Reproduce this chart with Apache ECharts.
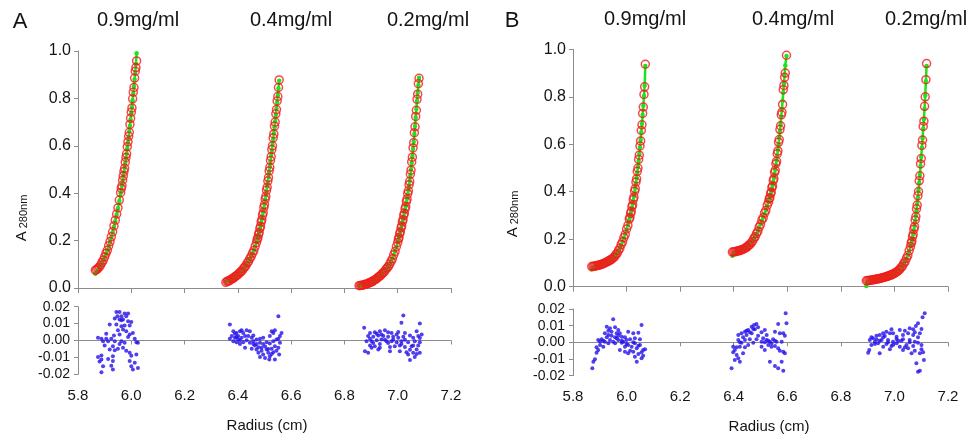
<!DOCTYPE html>
<html><head><meta charset="utf-8">
<script src="https://cdn.jsdelivr.net/npm/echarts/dist/echarts.min.js"></script>
<style>html,body{margin:0;padding:0;background:#fff}#c{width:971px;height:434px}</style>
</head><body><div id="c"></div>
<script>
// ---------- Panel A ----------
const xA1 = [5.865,5.870,5.875,5.880,5.885,5.890,5.895,5.900,5.905,5.910,5.915,5.920,5.925,5.930,5.935,5.940,5.945,5.950,5.955,5.960,5.9625,5.965,5.9675,5.970,5.9725,5.975,5.9775,5.980,5.9825,5.985,5.9875,5.990,5.9925,5.995,5.9975,6.000,6.0025,6.005,6.0075,6.010,6.0125,6.015,6.0175,6.020];
const dataA1 = [0.075,0.077,0.083,0.089,0.097,0.108,0.118,0.131,0.146,0.159,0.178,0.196,0.216,0.237,0.262,0.286,0.312,0.338,0.371,0.402,0.420,0.431,0.455,0.473,0.492,0.505,0.531,0.551,0.566,0.596,0.617,0.640,0.657,0.690,0.716,0.742,0.760,0.798,0.826,0.846,0.886,0.915,0.930,0.958];
const fitA1 = [0.060,0.068,0.077,0.086,0.096,0.106,0.117,0.129,0.142,0.157,0.174,0.193,0.213,0.235,0.258,0.283,0.309,0.337,0.367,0.399,0.416,0.433,0.451,0.469,0.488,0.507,0.527,0.547,0.568,0.590,0.613,0.636,0.660,0.685,0.711,0.737,0.764,0.792,0.821,0.850,0.880,0.911,0.945,0.990];

const xA2 = [6.355,6.360,6.365,6.370,6.375,6.380,6.385,6.390,6.395,6.400,6.405,6.410,6.415,6.420,6.425,6.430,6.435,6.440,6.445,6.450,6.455,6.460,6.465,6.470,6.4725,6.475,6.4775,6.480,6.4825,6.485,6.4875,6.490,6.4925,6.495,6.4975,6.500,6.5025,6.505,6.5075,6.510,6.5125,6.515,6.5175,6.520,6.5225,6.525,6.5275,6.530,6.5325,6.535,6.5375,6.540,6.5425,6.545,6.5475,6.550,6.5525,6.555];
const dataA2 = [0.024,0.028,0.030,0.032,0.037,0.040,0.043,0.049,0.052,0.056,0.063,0.067,0.072,0.081,0.087,0.094,0.105,0.112,0.124,0.133,0.147,0.158,0.176,0.192,0.205,0.211,0.226,0.234,0.251,0.260,0.279,0.288,0.307,0.318,0.340,0.352,0.375,0.387,0.412,0.425,0.451,0.466,0.494,0.509,0.538,0.554,0.584,0.600,0.633,0.650,0.683,0.700,0.735,0.753,0.789,0.808,0.846,0.878];
const fitA2 = [0.025,0.027,0.030,0.033,0.036,0.040,0.044,0.048,0.052,0.057,0.062,0.067,0.073,0.080,0.087,0.095,0.104,0.113,0.123,0.134,0.146,0.159,0.175,0.193,0.203,0.213,0.224,0.236,0.249,0.262,0.276,0.290,0.305,0.321,0.337,0.354,0.372,0.390,0.409,0.428,0.448,0.469,0.490,0.512,0.534,0.557,0.580,0.604,0.628,0.653,0.678,0.704,0.730,0.757,0.784,0.812,0.842,0.875];

const xA3 = [6.855,6.860,6.865,6.870,6.875,6.880,6.885,6.890,6.895,6.900,6.905,6.910,6.915,6.920,6.925,6.930,6.935,6.940,6.945,6.950,6.955,6.960,6.965,6.970,6.975,6.980,6.985,6.990,6.995,7.000,7.0025,7.005,7.0075,7.010,7.0125,7.015,7.0175,7.020,7.0225,7.025,7.0275,7.030,7.0325,7.035,7.0375,7.040,7.0425,7.045,7.0475,7.050,7.0525,7.055,7.0575,7.060,7.0625,7.065,7.0675,7.070,7.0725,7.075,7.0775,7.080];
const dataA3 = [0.010,0.011,0.012,0.012,0.015,0.016,0.017,0.020,0.023,0.025,0.027,0.032,0.035,0.038,0.044,0.048,0.052,0.059,0.064,0.069,0.078,0.084,0.091,0.101,0.112,0.123,0.140,0.154,0.175,0.192,0.206,0.213,0.230,0.237,0.254,0.262,0.280,0.288,0.306,0.315,0.334,0.343,0.364,0.375,0.398,0.410,0.436,0.450,0.480,0.497,0.532,0.552,0.591,0.613,0.655,0.680,0.724,0.750,0.796,0.818,0.862,0.885];
const fitA3 = [0.010,0.011,0.012,0.013,0.014,0.016,0.018,0.020,0.022,0.025,0.028,0.031,0.035,0.039,0.043,0.048,0.053,0.058,0.064,0.070,0.077,0.084,0.092,0.100,0.111,0.124,0.139,0.155,0.173,0.193,0.204,0.215,0.227,0.239,0.251,0.264,0.277,0.290,0.303,0.317,0.331,0.345,0.361,0.377,0.394,0.412,0.432,0.453,0.475,0.500,0.527,0.556,0.586,0.617,0.650,0.684,0.719,0.755,0.790,0.823,0.856,0.887];

// ---------- Panel B ----------
const xB1 = [5.870,5.875,5.880,5.885,5.890,5.895,5.900,5.905,5.910,5.915,5.920,5.925,5.930,5.935,5.940,5.945,5.950,5.955,5.960,5.965,5.970,5.975,5.980,5.985,5.990,5.995,6.000,6.005,6.010,6.0125,6.015,6.0175,6.020,6.0225,6.025,6.0275,6.030,6.0325,6.035,6.0375,6.040,6.0425,6.045,6.0475,6.050,6.0525,6.055,6.0575,6.060,6.0625,6.065,6.0675,6.070];
const dataB1 = [0.085,0.086,0.086,0.088,0.089,0.090,0.092,0.093,0.096,0.098,0.101,0.103,0.107,0.109,0.113,0.116,0.122,0.126,0.135,0.141,0.153,0.162,0.178,0.189,0.207,0.220,0.243,0.258,0.285,0.292,0.309,0.317,0.337,0.345,0.367,0.377,0.402,0.413,0.441,0.454,0.486,0.500,0.536,0.554,0.593,0.614,0.658,0.682,0.730,0.757,0.810,0.842,0.937];
const fitB1 = [0.072,0.080,0.084,0.086,0.088,0.089,0.091,0.093,0.095,0.098,0.100,0.103,0.106,0.109,0.112,0.116,0.121,0.127,0.134,0.142,0.152,0.163,0.176,0.190,0.205,0.222,0.240,0.260,0.282,0.294,0.306,0.319,0.333,0.348,0.363,0.380,0.397,0.416,0.436,0.457,0.480,0.504,0.530,0.558,0.587,0.618,0.651,0.686,0.723,0.762,0.803,0.846,0.930];

const xB2 = [6.395,6.400,6.405,6.410,6.415,6.420,6.425,6.430,6.435,6.440,6.445,6.450,6.455,6.460,6.465,6.470,6.475,6.480,6.485,6.490,6.495,6.500,6.505,6.510,6.515,6.520,6.525,6.530,6.5325,6.535,6.5375,6.540,6.5425,6.545,6.5475,6.550,6.5525,6.555,6.5575,6.560,6.5625,6.565,6.5675,6.570,6.5725,6.575,6.5775,6.580,6.5825,6.585,6.5875,6.590,6.5925,6.597];
const dataB2 = [0.146,0.147,0.147,0.149,0.150,0.152,0.153,0.156,0.158,0.160,0.165,0.167,0.174,0.177,0.185,0.191,0.203,0.210,0.224,0.233,0.251,0.262,0.281,0.290,0.310,0.321,0.343,0.356,0.370,0.375,0.392,0.398,0.418,0.424,0.447,0.455,0.481,0.490,0.518,0.528,0.560,0.572,0.608,0.620,0.662,0.678,0.724,0.735,0.768,0.830,0.848,0.882,0.900,0.975];
const fitB2 = [0.130,0.140,0.146,0.148,0.150,0.152,0.154,0.156,0.158,0.161,0.164,0.168,0.173,0.178,0.184,0.192,0.201,0.211,0.222,0.235,0.249,0.264,0.278,0.292,0.307,0.323,0.340,0.358,0.367,0.377,0.388,0.400,0.413,0.427,0.442,0.458,0.475,0.493,0.512,0.532,0.553,0.576,0.600,0.626,0.654,0.684,0.716,0.748,0.782,0.818,0.855,0.893,0.932,0.972];

const xB3 = [6.895,6.900,6.905,6.910,6.915,6.920,6.925,6.930,6.935,6.940,6.945,6.950,6.955,6.960,6.965,6.970,6.975,6.980,6.985,6.990,6.995,7.000,7.005,7.010,7.015,7.020,7.025,7.030,7.035,7.040,7.045,7.050,7.055,7.060,7.0625,7.065,7.0675,7.070,7.0725,7.075,7.0775,7.080,7.0825,7.085,7.0875,7.090,7.0925,7.095,7.0975,7.100,7.1025,7.105,7.1075,7.110,7.1125,7.115,7.1175,7.120];
const dataB3 = [0.025,0.026,0.026,0.027,0.028,0.029,0.030,0.031,0.032,0.033,0.035,0.036,0.038,0.039,0.041,0.042,0.045,0.046,0.049,0.050,0.054,0.056,0.060,0.063,0.069,0.073,0.081,0.087,0.098,0.106,0.120,0.131,0.152,0.169,0.184,0.191,0.211,0.220,0.242,0.253,0.281,0.295,0.328,0.344,0.383,0.401,0.446,0.467,0.517,0.540,0.595,0.618,0.675,0.697,0.760,0.800,0.872,0.940];
const fitB3 = [0.003,0.020,0.026,0.027,0.028,0.029,0.030,0.031,0.032,0.033,0.034,0.036,0.037,0.039,0.040,0.042,0.044,0.046,0.048,0.050,0.053,0.056,0.059,0.063,0.068,0.073,0.080,0.088,0.097,0.107,0.118,0.132,0.150,0.170,0.181,0.193,0.207,0.222,0.238,0.256,0.276,0.298,0.322,0.348,0.376,0.406,0.438,0.472,0.508,0.546,0.585,0.625,0.665,0.705,0.750,0.805,0.865,0.930];

// ---------- Residuals [radius, residual] ----------
const resA1 = [[5.944,0.0168],[5.956,0.0168],[5.975,0.0160],[5.988,0.0160],[5.948,0.0144],[5.963,0.0144],[5.981,0.0144],[5.956,0.0124],[5.969,0.0124],[5.988,0.0114],[6.000,0.0109],[5.919,0.0095],[5.944,0.0095],[5.963,0.0085],[5.975,0.0089],[5.994,0.0089],[5.950,0.0061],[5.969,0.0065],[5.981,0.0055],[6.006,0.0045],[5.935,0.0030],[5.956,0.0036],[5.994,0.0036],[5.875,0.0016],[5.888,0.0010],[5.906,0.0010],[5.925,0.0010],[5.894,-0.0004],[5.913,-0.0004],[5.938,-0.0004],[5.963,-0.0004],[5.975,-0.0014],[6.019,-0.0010],[6.025,-0.0014],[5.900,-0.0030],[5.931,-0.0034],[5.950,-0.0049],[5.969,-0.0043],[5.919,-0.0053],[5.938,-0.0057],[5.994,-0.0073],[6.019,-0.0083],[5.888,-0.0089],[5.875,-0.0097],[5.888,-0.0112],[5.881,-0.0124],[5.931,-0.0093],[5.931,-0.0122],[5.994,-0.0122],[6.013,-0.0132],[6.000,-0.0152],[6.025,-0.0162],[5.894,-0.0152],[5.931,-0.0172],[5.888,-0.0188],[6.006,-0.0172],[5.906,0.0040],[5.913,-0.0110],[5.938,0.0130],[5.963,0.0120],[5.988,0.0020],[6.000,-0.0090],[6.013,0.0010],[5.925,-0.0150],[5.956,-0.0020],[5.981,-0.0060]];
const resA2 = [[6.370,0.0095],[6.552,0.0144],[6.383,0.0055],[6.395,0.0045],[6.408,0.0055],[6.420,0.0045],[6.433,0.0061],[6.445,0.0055],[6.377,0.0026],[6.389,0.0016],[6.401,0.0026],[6.414,0.0016],[6.427,0.0026],[6.383,-0.0004],[6.395,-0.0010],[6.408,0.0002],[6.439,0.0026],[6.452,0.0016],[6.458,-0.0004],[6.470,0.0006],[6.483,0.0010],[6.495,0.0016],[6.520,0.0026],[6.533,0.0045],[6.539,0.0061],[6.527,0.0055],[6.558,0.0026],[6.445,-0.0014],[6.458,-0.0020],[6.470,-0.0020],[6.483,-0.0014],[6.495,-0.0020],[6.508,-0.0010],[6.520,-0.0018],[6.533,-0.0004],[6.545,0.0006],[6.427,-0.0043],[6.452,-0.0049],[6.470,-0.0053],[6.489,-0.0043],[6.508,-0.0053],[6.527,-0.0049],[6.539,-0.0034],[6.552,-0.0043],[6.477,-0.0073],[6.495,-0.0083],[6.514,-0.0073],[6.533,-0.0069],[6.483,-0.0097],[6.502,-0.0103],[6.520,-0.0093],[6.518,-0.0112],[6.539,-0.0112],[6.555,-0.0083],[6.558,-0.0014],[6.408,-0.0020],[6.370,0.0010],[6.564,0.0045],[6.389,0.0040],[6.401,0.0008],[6.420,-0.0010],[6.433,0.0002],[6.464,-0.0030],[6.477,-0.0040],[6.489,-0.0060],[6.502,-0.0035],[6.514,-0.0050],[6.527,-0.0080],[6.545,-0.0060],[6.552,0.0010],[6.458,0.0030],[6.414,0.0060],[6.395,0.0020]];
const resA3 = [[7.021,0.0148],[6.874,0.0075],[7.014,0.0105],[7.083,0.0101],[6.896,0.0045],[6.914,0.0049],[6.933,0.0055],[6.952,0.0061],[6.964,0.0049],[6.977,0.0045],[6.996,0.0036],[7.027,0.0045],[7.071,0.0055],[7.046,0.0030],[6.889,0.0026],[6.908,0.0022],[6.927,0.0030],[6.946,0.0026],[6.964,0.0022],[6.983,0.0022],[7.002,0.0016],[7.021,0.0022],[7.058,0.0016],[7.077,0.0026],[7.090,0.0036],[6.883,-0.0004],[6.902,-0.0004],[6.921,0.0002],[6.939,0.0006],[6.958,-0.0004],[6.977,-0.0004],[6.996,-0.0010],[7.014,-0.0004],[7.039,-0.0010],[7.064,-0.0004],[7.083,-0.0010],[6.896,-0.0030],[6.914,-0.0034],[6.933,-0.0043],[6.971,-0.0038],[6.989,-0.0034],[7.008,-0.0030],[7.027,-0.0038],[7.052,-0.0034],[7.077,-0.0030],[6.877,-0.0063],[6.889,-0.0073],[6.927,-0.0053],[6.971,-0.0063],[7.008,-0.0063],[7.033,-0.0069],[7.058,-0.0073],[7.071,-0.0053],[7.039,-0.0083],[7.064,-0.0097],[7.046,-0.0116],[7.083,-0.0073],[6.902,-0.0043],[6.896,0.0010],[6.908,-0.0015],[6.921,0.0040],[6.939,0.0035],[6.952,0.0005],[6.964,-0.0015],[6.983,0.0005],[7.002,0.0050],[7.014,-0.0020],[7.027,0.0005],[7.046,-0.0055],[7.058,-0.0030],[7.071,-0.0080],[7.083,0.0015],[6.933,-0.0020]];
const resB1 = [[5.950,0.0138],[6.056,0.0104],[5.926,0.0094],[5.938,0.0084],[5.957,0.0090],[5.969,0.0074],[5.944,0.0064],[5.919,0.0054],[5.932,0.0044],[5.963,0.0054],[5.975,0.0054],[6.006,0.0064],[6.025,0.0054],[6.044,0.0058],[5.982,0.0034],[5.994,0.0030],[5.894,0.0014],[5.907,0.0018],[5.919,0.0004],[5.938,0.0014],[5.950,0.0004],[5.969,0.0014],[5.988,0.0004],[6.000,0.0014],[6.013,0.0018],[6.031,0.0024],[6.050,0.0018],[5.901,-0.0016],[5.913,-0.0026],[5.932,-0.0006],[5.957,-0.0006],[5.975,-0.0046],[5.994,-0.0026],[6.006,-0.0016],[6.019,-0.0026],[6.031,-0.0006],[6.038,-0.0036],[6.050,-0.0016],[5.894,-0.0046],[5.888,-0.0062],[5.994,-0.0056],[6.006,-0.0066],[6.025,-0.0056],[6.044,-0.0070],[6.062,-0.0046],[6.069,-0.0042],[5.882,-0.0102],[5.876,-0.0116],[6.031,-0.0086],[6.038,-0.0116],[6.056,-0.0096],[5.872,-0.0156],[5.982,-0.0002],[5.963,0.0024],[5.901,0.0005],[5.913,0.0010],[5.926,0.0030],[5.944,0.0040],[5.957,0.0030],[5.969,0.0040],[5.982,0.0010],[6.000,-0.0010],[6.013,-0.0050],[6.025,0.0000],[6.044,-0.0020],[6.056,-0.0060],[5.888,-0.0030],[5.932,0.0070],[6.062,-0.0080]];
const resB2 = [[6.594,0.0174],[6.597,0.0114],[6.566,0.0110],[6.485,0.0110],[6.476,0.0104],[6.467,0.0094],[6.491,0.0090],[6.479,0.0078],[6.454,0.0074],[6.442,0.0064],[6.429,0.0054],[6.417,0.0044],[6.448,0.0044],[6.467,0.0054],[6.516,0.0074],[6.523,0.0044],[6.554,0.0064],[6.572,0.0054],[6.585,0.0054],[6.510,0.0024],[6.523,0.0014],[6.535,0.0004],[6.547,0.0018],[6.560,0.0004],[6.579,0.0004],[6.504,0.0004],[6.460,0.0018],[6.442,0.0014],[6.417,0.0014],[6.429,-0.0002],[6.398,-0.0026],[6.404,-0.0046],[6.423,-0.0026],[6.442,-0.0030],[6.454,-0.0016],[6.473,-0.0002],[6.485,0.0018],[6.529,-0.0016],[6.541,-0.0026],[6.554,-0.0022],[6.566,-0.0036],[6.585,-0.0056],[6.591,-0.0066],[6.411,-0.0076],[6.417,-0.0096],[6.423,-0.0116],[6.404,-0.0106],[6.392,-0.0156],[6.435,-0.0066],[6.535,-0.0116],[6.554,-0.0142],[6.566,-0.0156],[6.579,-0.0116],[6.585,-0.0170],[6.516,-0.0046],[6.504,-0.0026],[6.398,-0.0060],[6.411,-0.0030],[6.423,0.0000],[6.435,0.0030],[6.448,0.0070],[6.460,0.0060],[6.473,0.0080],[6.491,0.0040],[6.504,0.0060],[6.516,0.0000],[6.529,0.0010],[6.541,-0.0005],[6.554,0.0010],[6.572,-0.0050],[6.591,0.0040]];
const resB3 = [[7.113,0.0174],[7.105,0.0150],[7.088,0.0114],[7.080,0.0098],[7.070,0.0078],[7.057,0.0084],[7.039,0.0070],[7.020,0.0074],[6.989,0.0078],[6.970,0.0064],[6.958,0.0054],[6.945,0.0044],[6.964,0.0038],[6.983,0.0054],[6.995,0.0054],[7.008,0.0034],[7.032,0.0044],[7.051,0.0054],[7.070,0.0044],[7.095,0.0054],[6.920,0.0024],[6.933,0.0018],[6.908,0.0014],[6.927,0.0004],[6.952,0.0014],[6.976,0.0014],[6.995,0.0004],[7.014,0.0010],[7.032,0.0018],[7.057,0.0014],[7.076,0.0004],[7.088,-0.0002],[6.914,-0.0016],[6.939,-0.0006],[6.970,-0.0010],[6.989,-0.0022],[7.008,-0.0006],[7.020,-0.0026],[7.045,-0.0016],[7.070,-0.0022],[7.101,-0.0016],[6.906,-0.0046],[6.902,-0.0062],[6.945,-0.0066],[6.983,-0.0042],[7.032,-0.0046],[7.051,-0.0036],[7.076,-0.0050],[7.095,-0.0066],[7.101,-0.0042],[7.082,-0.0126],[7.088,-0.0176],[7.095,-0.0170],[7.110,-0.0106],[7.064,-0.0066],[6.958,-0.0026],[6.914,0.0030],[6.927,-0.0010],[6.945,0.0010],[6.958,0.0030],[6.976,0.0000],[6.995,-0.0015],[7.008,0.0020],[7.026,0.0010],[7.039,-0.0030],[7.057,0.0000],[7.076,0.0060],[7.088,0.0030],[7.101,0.0080],[7.107,-0.0060],[6.933,0.0040]];

const ticksX = {min: 5.8, max: 7.2, step: 0.2};
const titles = ['A', 'B'];
const concLabels = ['0.9mg/ml', '0.4mg/ml', '0.2mg/ml'];

const pairs = (xs, ys) => xs.map((x, i) => [x, ys[i]]);

const FONT = '"Liberation Sans", Arial, sans-serif';
const AX = '#8c8c8c';
const TXT = '#141414';
const RED = '#f21a1a';
const GREEN = '#1ee41e';
const BLUE = '#2410e8';

const grids = [
  {left: 78, top: 51, width: 373, height: 237},
  {left: 78, top: 306.7, width: 373, height: 67.6},
  {left: 573, top: 49.3, width: 375, height: 237.4},
  {left: 573, top: 309, width: 375, height: 66.7}
];

function topX(gi) {
  return {gridIndex: gi, type: 'value', min: ticksX.min, max: ticksX.max, interval: ticksX.step,
    axisLine: {onZero: false, lineStyle: {color: AX, width: 1}},
    axisTick: {show: true, length: 5, lineStyle: {color: AX}},
    axisLabel: {show: false}, splitLine: {show: false}};
}
function labelX(gi) {
  return {gridIndex: gi, type: 'value', min: ticksX.min, max: ticksX.max, interval: ticksX.step, position: 'bottom',
    axisLine: {show: false, onZero: false}, axisTick: {show: false},
    axisLabel: {show: true, margin: 14, fontSize: 15, color: TXT, fontFamily: FONT, formatter: v => v.toFixed(1)},
    splitLine: {show: false}};
}
function zeroX(gi) {
  return {gridIndex: gi, type: 'value', min: ticksX.min, max: ticksX.max, interval: ticksX.step, position: 'bottom',
    axisLine: {onZero: true, lineStyle: {color: AX, width: 1}},
    axisTick: {show: true, length: 4, lineStyle: {color: AX}},
    axisLabel: {show: false}, splitLine: {show: false}};
}
function topY(gi) {
  return {gridIndex: gi, type: 'value', min: 0, max: 1, interval: 0.2,
    axisLine: {show: true, onZero: false, lineStyle: {color: AX}},
    axisTick: {show: true, length: 4, lineStyle: {color: AX}},
    axisLabel: {margin: 7, fontSize: 16, color: TXT, fontFamily: FONT, formatter: v => v.toFixed(1)},
    splitLine: {show: false}};
}
function resY(gi) {
  return {gridIndex: gi, type: 'value', min: -0.02, max: 0.02, interval: 0.01,
    axisLine: {show: true, onZero: false, lineStyle: {color: AX}},
    axisTick: {show: true, length: 4, lineStyle: {color: AX}},
    axisLabel: {margin: 8, fontSize: 14, color: TXT, fontFamily: FONT, formatter: v => v.toFixed(2)},
    splitLine: {show: false}};
}

function fitSeries(xi, yi, xs, ys) {
  return {type: 'line', xAxisIndex: xi, yAxisIndex: yi, data: pairs(xs, ys),
    symbol: 'circle', symbolSize: 4.5, showSymbol: true, showAllSymbol: true,
    lineStyle: {color: GREEN, width: 2.5}, itemStyle: {color: GREEN}, z: 2, silent: true};
}
function dataSeries(xi, yi, xs, ys) {
  return {type: 'scatter', xAxisIndex: xi, yAxisIndex: yi, data: pairs(xs, ys),
    symbol: 'circle', symbolSize: 8,
    itemStyle: {color: 'rgba(255,255,255,0)', borderColor: RED, borderWidth: 1.5}, z: 3, silent: true};
}
function resSeries(xi, yi, d) {
  return {type: 'scatter', xAxisIndex: xi, yAxisIndex: yi, data: d, symbol: 'circle', symbolSize: 4,
    itemStyle: {color: BLUE}, z: 3, silent: true};
}

function txt(x, y, s, size, extra) {
  return Object.assign({type: 'text', x: x, y: y,
    style: {text: s, fontSize: size, fontFamily: FONT, fill: TXT, align: 'center', verticalAlign: 'middle'}}, extra || {});
}
function yName(x, y) {
  return {type: 'text', x: x, y: y, rotation: Math.PI / 2,
    style: {text: '{a|A}{b| 280nm}', align: 'center', verticalAlign: 'middle',
      rich: {a: {fontSize: 15, fontFamily: FONT, fill: TXT},
             b: {fontSize: 11, fontFamily: FONT, fill: TXT, padding: [4, 0, 0, 0]}}}};
}

const option = {
  animation: false,
  backgroundColor: '#fff',
  grid: grids,
  xAxis: [topX(0), labelX(1), zeroX(1), topX(2), labelX(3), zeroX(3)],
  yAxis: [topY(0), resY(1), topY(2), resY(3)],
  series: [
    fitSeries(0, 0, xA1, fitA1), dataSeries(0, 0, xA1, dataA1),
    fitSeries(0, 0, xA2, fitA2), dataSeries(0, 0, xA2, dataA2),
    fitSeries(0, 0, xA3, fitA3), dataSeries(0, 0, xA3, dataA3),
    fitSeries(3, 2, xB1, fitB1), dataSeries(3, 2, xB1, dataB1),
    fitSeries(3, 2, xB2, fitB2), dataSeries(3, 2, xB2, dataB2),
    fitSeries(3, 2, xB3, fitB3), dataSeries(3, 2, xB3, dataB3),
    resSeries(1, 1, resA1), resSeries(1, 1, resA2), resSeries(1, 1, resA3),
    resSeries(4, 3, resB1), resSeries(4, 3, resB2), resSeries(4, 3, resB3)
  ],
  graphic: [
    txt(20, 22, titles[0], 22),
    txt(512, 21, titles[1], 22),
    txt(138, 20, concLabels[0], 20),
    txt(291, 20, concLabels[1], 20),
    txt(428, 20, concLabels[2], 20),
    txt(645, 19, concLabels[0], 20),
    txt(793, 19, concLabels[1], 20),
    txt(926, 19, concLabels[2], 20),
    txt(267, 426, 'Radius (cm)', 15),
    txt(769, 427, 'Radius (cm)', 15),
    yName(22, 218),
    yName(513, 214)
  ]
};

const chart = echarts.init(document.getElementById('c'), null, {renderer: 'canvas'});
chart.setOption(option);
</script>
</body></html>
